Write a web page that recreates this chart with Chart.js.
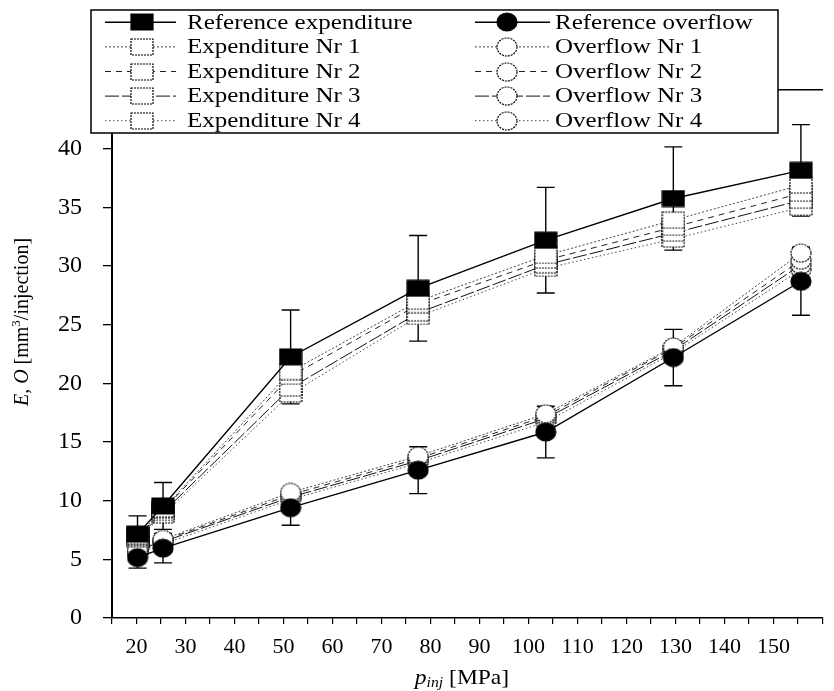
<!DOCTYPE html>
<html>
<head>
<meta charset="utf-8">
<title>Expenditure and overflow vs injection pressure</title>
<script src="https://cdn.jsdelivr.net/npm/chart.js@4.4.1/dist/chart.umd.min.js"></script>
<style>
  html, body { margin: 0; padding: 0; background: #fff; }
  #chart { display: block; }
</style>
</head>
<body>
<canvas id="chart" width="834" height="691"></canvas>
<script>
// ===================================
// DATA
// ===================================
const pressures = [20, 25, 50, 75, 100, 125, 150];

const refExpenditure    = [7.15, 9.55, 22.25, 28.1, 32.2, 35.75, 38.15];
const refExpenditureErr = [1.55, 2.0, 4.0, 4.5, 4.5, 4.4, 3.9];
const expenditure1 = [7.0, 9.3, 21.0, 27.0, 30.9, 33.9, 36.9];
const expenditure2 = [6.9, 9.2, 20.6, 26.7, 30.5, 33.3, 36.2];
const expenditure3 = [6.8, 9.0, 19.6, 26.0, 30.1, 32.8, 35.6];
const expenditure4 = [6.7, 8.8, 19.1, 25.7, 29.8, 32.3, 35.0];

const refOverflow    = [5.15, 5.95, 9.4, 12.6, 15.85, 22.2, 28.7];
const refOverflowErr = [0.9, 1.25, 1.5, 2.0, 2.2, 2.4, 2.9];
const overflow1 = [5.8, 6.7, 10.7, 13.8, 17.4, 23.1, 31.1];
const overflow2 = [5.7, 6.6, 10.5, 13.6, 17.2, 23.0, 30.5];
const overflow3 = [5.6, 6.5, 10.3, 13.4, 17.0, 22.8, 30.1];
const overflow4 = [5.5, 6.3, 10.1, 13.2, 16.7, 22.6, 29.7];

const expenditureLabels = ['Reference expenditure', 'Expenditure Nr 1', 'Expenditure Nr 2', 'Expenditure Nr 3', 'Expenditure Nr 4'];
const overflowLabels = ['Reference overflow', 'Overflow Nr 1', 'Overflow Nr 2', 'Overflow Nr 3', 'Overflow Nr 4'];

const xTickLabels = [20, 30, 40, 50, 60, 70, 80, 90, 100, 110, 120, 130, 140, 150];
const yTickLabels = [0, 5, 10, 15, 20, 25, 30, 35, 40];

// ===================================
// MARKERS
// ===================================
const SERIF = '"Liberation Serif", "Times New Roman", serif';

function makeMarker(shape, filled, dash) {
    const w = shape === 'rect' ? 22 : 20;
    const h = shape === 'rect' ? 16 : 18;
    const c = document.createElement('canvas');
    c.width = w + 2;
    c.height = h + 2;
    const g = c.getContext('2d');
    g.fillStyle = filled ? '#000' : '#fff';
    g.strokeStyle = '#000';
    g.lineWidth = 1.2;
    g.setLineDash(dash);
    g.beginPath();
    if (shape === 'rect') g.rect(1, 1, w, h);
    else g.ellipse(c.width / 2, c.height / 2, w / 2, h / 2, 0, 0, Math.PI * 2);
    g.fill();
    g.stroke();
    return c;
}

const lineStyles = [
    { color: '#000', width: 1.4, dash: [] },
    { color: '#444', width: 1, dash: [2, 2] },
    { color: '#222', width: 1, dash: [6, 5] },
    { color: '#111', width: 1, dash: [14, 3] },
    { color: '#444', width: 1, dash: [1.5, 2.5] }
];

function series(label, values, i, shape) {
    const st = lineStyles[i];
    const marker = i === 0 ? makeMarker(shape, true, []) : makeMarker(shape, false, [2, 1]);
    return {
        label: label,
        data: pressures.map((p, k) => ({ x: p, y: values[k] })),
        xAxisID: 'xd',
        yAxisID: 'y',
        borderColor: st.color,
        borderWidth: st.width,
        borderDash: st.dash,
        tension: 0,
        fill: false,
        pointStyle: marker,
        pointRadius: 10,
        pointHoverRadius: 10
    };
}

const expenditureSeries = [refExpenditure, expenditure1, expenditure2, expenditure3, expenditure4];
const overflowSeries = [refOverflow, overflow1, overflow2, overflow3, overflow4];

const datasets = [
    ...expenditureSeries.map((v, i) => series(expenditureLabels[i], v, i, 'rect')),
    ...overflowSeries.map((v, i) => series(overflowLabels[i], v, i, 'circle'))
];

// ===================================
// PLUGINS
// ===================================
const errorBars = {
    id: 'errorBars',
    beforeDatasetsDraw(chart) {
        const xs = chart.scales.xd, ys = chart.scales.y, ctx = chart.ctx;
        const sets = [[refExpenditure, refExpenditureErr], [refOverflow, refOverflowErr]];
        ctx.save();
        ctx.strokeStyle = '#000';
        ctx.lineWidth = 1.4;
        sets.forEach(([vals, errs]) => {
            pressures.forEach((p, k) => {
                const x = xs.getPixelForValue(p);
                const top = ys.getPixelForValue(vals[k] + errs[k]);
                const bot = ys.getPixelForValue(vals[k] - errs[k]);
                ctx.beginPath();
                ctx.moveTo(x, top); ctx.lineTo(x, bot);
                ctx.moveTo(x - 9, top); ctx.lineTo(x + 9, top);
                ctx.moveTo(x - 9, bot); ctx.lineTo(x + 9, bot);
                ctx.stroke();
            });
        });
        ctx.restore();
    }
};

function drawRich(ctx, parts) {
    let total = 0;
    parts.forEach(p => { ctx.font = p.font; p.w = ctx.measureText(p.text).width; total += p.w; });
    let x = -total / 2;
    parts.forEach(p => {
        ctx.font = p.font;
        ctx.fillText(p.text, x, p.dy || 0);
        x += p.w;
    });
}

const overlay = {
    id: 'overlay',
    afterDraw(chart) {
        const ctx = chart.ctx;
        ctx.save();
        ctx.fillStyle = '#000';
        ctx.textBaseline = 'middle';

        // y axis title
        ctx.save();
        ctx.translate(23, 322);
        ctx.rotate(-Math.PI / 2);
        drawRich(ctx, [
            { text: 'E, O', font: 'italic 20px ' + SERIF },
            { text: ' [mm', font: '20px ' + SERIF },
            { text: '3', font: '13px ' + SERIF, dy: -6 },
            { text: '/injection]', font: '20px ' + SERIF }
        ]);
        ctx.restore();

        // x axis title
        ctx.save();
        ctx.translate(462, 678);
        ctx.scale(1.12, 1);
        drawRich(ctx, [
            { text: 'p', font: 'italic 21px ' + SERIF },
            { text: 'inj', font: 'italic 14px ' + SERIF, dy: 5 },
            { text: ' [MPa]', font: '21px ' + SERIF }
        ]);
        ctx.restore();

        // legend box
        const box = { left: 91, top: 10, right: 778, bottom: 133 };
        ctx.fillStyle = '#fff';
        ctx.fillRect(box.left, box.top, box.right - box.left, box.bottom - box.top);
        ctx.strokeStyle = '#000';
        ctx.lineWidth = 1.5;
        ctx.setLineDash([]);
        ctx.strokeRect(box.left, box.top, box.right - box.left, box.bottom - box.top);

        const rowH = (box.bottom - box.top) / 5;
        const cols = [
            { from: 0, x0: 105, x1: 176, mx: 142, tx: 187 },
            { from: 5, x0: 475, x1: 550, mx: 507, tx: 555 }
        ];
        cols.forEach(col => {
            for (let r = 0; r < 5; r++) {
                const ds = chart.data.datasets[col.from + r];
                const y = box.top + rowH * (r + 0.5);
                ctx.strokeStyle = ds.borderColor;
                ctx.lineWidth = ds.borderWidth;
                ctx.setLineDash(ds.borderDash);
                ctx.beginPath();
                ctx.moveTo(col.x0, y);
                ctx.lineTo(col.x1, y);
                ctx.stroke();
                ctx.setLineDash([]);
                const m = ds.pointStyle;
                ctx.drawImage(m, Math.round(col.mx - m.width / 2), Math.round(y - m.height / 2));
                ctx.save();
                ctx.translate(col.tx, y + 1);
                ctx.scale(1.25, 1);
                ctx.fillStyle = '#000';
                ctx.font = '20px ' + SERIF;
                ctx.fillText(ds.label, 0, 0);
                ctx.restore();
            }
        });
        ctx.restore();
    }
};

// ===================================
// CHART
// ===================================
new Chart(document.getElementById('chart'), {
    type: 'line',
    data: { datasets },
    options: {
        responsive: false,
        animation: false,
        devicePixelRatio: 1,
        layout: { padding: 0 },
        plugins: {
            legend: { display: false },
            tooltip: { enabled: false }
        },
        scales: {
            xd: {
                type: 'linear',
                display: false,
                min: 15,
                max: 154.25
            },
            x: {
                type: 'linear',
                position: 'bottom',
                min: 15,
                max: 160,
                afterFit(s) { s.height = 73; },
                grid: { drawOnChartArea: false, tickLength: 6, color: '#000', lineWidth: 1.2 },
                border: { display: true, color: '#000', width: 1.5 },
                ticks: {
                    stepSize: 5,
                    autoSkip: false,
                    maxRotation: 0,
                    minRotation: 0,
                    padding: 10,
                    color: '#000',
                    font: { family: SERIF, size: 22 },
                    callback: v => xTickLabels.includes(v) ? String(v) : ''
                }
            },
            top: {
                type: 'linear',
                position: 'top',
                min: 15,
                max: 160,
                afterFit(s) { s.height = 90; },
                grid: { drawOnChartArea: false, drawTicks: false },
                border: { display: true, color: '#000', width: 1.5 },
                ticks: { display: false }
            },
            y: {
                type: 'linear',
                min: 0,
                max: 45,
                afterFit(s) { s.width = 112; },
                grid: { drawOnChartArea: false, tickLength: 9, color: '#000', lineWidth: 1.3 },
                border: { display: true, color: '#000', width: 2 },
                ticks: {
                    stepSize: 5,
                    padding: 21,
                    color: '#000',
                    font: { family: SERIF, size: 24 },
                    callback: v => yTickLabels.includes(v) ? String(v) : ''
                }
            }
        }
    },
    plugins: [errorBars, overlay]
});
</script>
</body>
</html>
